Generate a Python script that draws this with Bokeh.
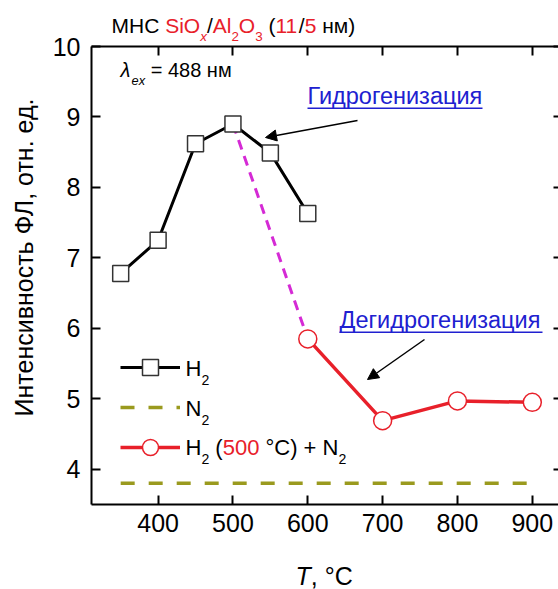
import math
from bokeh.plotting import figure
from bokeh.models import (Range1d, LinearAxis, FixedTicker, Label, Legend, LegendItem,
                          Arrow, NormalHead, BoxAnnotation)
from bokeh.embed import file_html
from bokeh.resources import INLINE

# ---------------- data ----------------
T_h2 = [350, 400, 450, 500, 550, 600]
I_h2 = [6.78, 7.25, 8.62, 8.90, 8.49, 7.63]

T_n2 = [350, 400, 450, 500, 550, 600, 700, 800, 900]
I_n2 = [3.80, 3.80, 3.80, 3.80, 3.80, 3.80, 3.80, 3.80, 3.80]

T_hn = [600, 700, 800, 900]
I_hn = [5.85, 4.69, 4.97, 4.95]

T_tr = [500, 600]
I_tr = [8.90, 5.85]

x_ticks = [400, 500, 600, 700, 800, 900]
y_ticks = [4, 5, 6, 7, 8, 9, 10]

# ---------------- style ----------------
FONT = "Liberation Sans"
RED = "#e8202a"
BLUE = "#2020d0"
OLIVE = "#9a9a1e"
MAGENTA = "#d52ad5"
BLACK = "#000000"

W, H = 558, 589
PL, PR = 91, 558        # pixel columns of x = XA and x = XB
PT, PB = 46, 504        # pixel rows of y = 10 and y = 3.5
XA, XB = 311, 935
YA, YB = 3.5, 10.0
SX = (PR - PL) / (XB - XA)
SY = (PB - PT) / (YB - YA)
X_LEFT = XA - PL / SX
X_RIGHT = XB + (W - PR) / SX
Y_TOP = YB + PT / SY
Y_BOT = YA - (H - PB) / SY


def dx(px):
    return X_LEFT + px / SX


def dy(py):
    return Y_BOT + (H - py) / SY


p = figure(width=W, height=H, x_range=Range1d(X_LEFT, X_RIGHT),
           y_range=Range1d(Y_BOT, Y_TOP),
           x_axis_type=None, y_axis_type=None, output_backend="svg",
           toolbar_location=None, min_border_left=0, min_border_right=0,
           min_border_top=0, min_border_bottom=0)
p.outline_line_color = None
p.background_fill_color = "white"
p.border_fill_color = "white"


def axis(ticks, labels=True, tick_in=9, line=True, **kw):
    ax = LinearAxis(ticker=FixedTicker(ticks=ticks), **kw)
    ax.major_tick_in = tick_in
    ax.major_tick_out = 0
    ax.minor_tick_in = 0
    ax.minor_tick_out = 0
    ax.major_tick_line_width = 2
    ax.axis_line_width = 2
    if not line:
        ax.axis_line_color = None
    if labels:
        ax.major_label_text_font = FONT
        ax.major_label_text_font_size = "25px"
        ax.major_label_text_color = BLACK
    else:
        ax.major_label_overrides = {t: "" for t in ticks}
        ax.major_label_text_font_size = "0px"
        ax.major_label_standoff = 0
    return ax


xb = axis(x_ticks, fixed_location=YA, bounds=(XA, X_RIGHT))
xb.major_label_standoff = 9
p.add_layout(xb, "below")
xt = axis(x_ticks, labels=False, fixed_location=YB, bounds=(XA, X_RIGHT))
p.add_layout(xt, "above")
yl = axis(y_ticks, fixed_location=XA, bounds=(YA, YB))
yl.major_label_standoff = 11
p.add_layout(yl, "left")
p.add_layout(axis(y_ticks, labels=False, tick_in=5, line=False, fixed_location=XB),
             "right")

# ---------------- glyphs ----------------
r_tr = p.line(T_tr, I_tr, line_color=MAGENTA, line_width=3, line_dash="10 7")
r_n2 = p.line(T_n2, I_n2, line_color=OLIVE, line_width=3.5, line_dash="14 14")
r_h2l = p.line(T_h2, I_h2, line_color=BLACK, line_width=3)
r_hnl = p.line(T_hn, I_hn, line_color=RED, line_width=3.5)
r_h2m = p.scatter(T_h2, I_h2, marker="square", size=16, fill_color="white",
                  line_color="#333333", line_width=1.5)
r_hnm = p.scatter(T_hn, I_hn, marker="circle", size=18, fill_color="white",
                  line_color=RED, line_width=1.5)

legend = Legend(items=[LegendItem(label=" ", renderers=[r_h2l, r_h2m]),
                       LegendItem(label=" ", renderers=[r_n2]),
                       LegendItem(label=" ", renderers=[r_hnl, r_hnm])],
                location=(120, H - PB + 37), padding=0, margin=0, spacing=0,
                glyph_width=60, glyph_height=40, label_height=40, label_width=1,
                label_standoff=0, label_text_font_size="1px",
                border_line_color=None, background_fill_alpha=0)
p.add_layout(legend, "center")

# ---------------- rich text helper ----------------
CW = {' ': 0.278, '(': 0.333, ')': 0.333, '+': 0.584, '/': 0.278, '=': 0.584,
      '.': 0.278, ',': 0.278, 'A': 0.667, 'C': 0.722, 'H': 0.722, 'N': 0.722,
      'O': 0.778, 'S': 0.667, 'T': 0.611, 'i': 0.222, 'l': 0.222, 'x': 0.5,
      'e': 0.556, '°': 0.4, 'λ': 0.556, 'М': 0.833, 'Н': 0.722, 'С': 0.722,
      'н': 0.547, 'м': 0.688}
BASE_FIX = 0.38   # empirical shift of the rendered alphabetic baseline


def tw(s, size):
    return sum(CW.get(c, 0.556) for c in s) * size


def put(px, py, text, fs, color, italic=False):
    p.add_layout(Label(x=dx(px), y=dy(py - BASE_FIX * fs), text=text, text_font=FONT,
                       text_font_size=f"{fs:.1f}px", text_color=color,
                       text_font_style="italic" if italic else "normal",
                       text_baseline="alphabetic", text_align="left"))


def rich(px, py, parts, size, sub_scale=0.64, drop=0.38):
    for part in parts:
        text, color = part[0], part[1]
        flags = part[2:]
        italic = "i" in flags
        sub = "s" in flags
        fs = size * sub_scale if sub else size
        yy = py + (size * drop if sub else 0)
        lead = len(text) - len(text.lstrip(" "))
        px += tw(" " * lead, fs)
        body = text.strip(" ")
        if body:
            put(px, yy, body, fs, color, italic)
        px += tw(text[lead:], fs)


# title
rich(111, 33, [("МНС ", BLACK), ("SiO", RED), ("x", RED, "i", "s"), ("/", BLACK),
               ("Al", RED), ("2", RED, "s"), ("O", RED), ("3", RED, "s"),
               (" (", BLACK), ("11", RED), ("/", BLACK), ("5", RED), (" нм)", BLACK)], 21)
# excitation
rich(120, 77, [("λ", BLACK, "i"), ("ex", BLACK, "i", "s"), (" = 488 нм", BLACK)], 20)
# x axis label
rich(295, 585, [("T", BLACK, "i"), (", °C", BLACK)], 25)
# y axis label (rotated, baseline at x = 33, centred at y = 257)
YL_FS = 25
p.add_layout(Label(x=dx(33 - BASE_FIX * YL_FS), y=dy(257), angle=math.pi / 2,
                   text="Интенсивность ФЛ, отн. ед.", text_font=FONT,
                   text_font_size=f"{YL_FS}px", text_color=BLACK,
                   text_baseline="alphabetic", text_align="center"))
# legend texts
rich(185, 376, [("H", BLACK), ("2", BLACK, "s")], 22)
rich(185, 416, [("N", BLACK), ("2", BLACK, "s")], 22)
rich(185, 455, [("H", BLACK), ("2", BLACK, "s"), (" (", BLACK), ("500", RED),
                (" °C) + N", BLACK), ("2", BLACK, "s")], 22)

# annotations
for txt, x0, base, x1 in [("Гидрогенизация", 307, 104, 482),
                          ("Дегидрогенизация", 339, 328, 542)]:
    put(x0, base, txt, 23.5, BLUE)
    p.add_layout(BoxAnnotation(left=dx(x0), right=dx(x1), top=dy(base + 3),
                               bottom=dy(base + 4.6), fill_color=BLUE, fill_alpha=1,
                               line_color=None))

for (sx, sy, ex, ey) in [(357, 120, 265, 137), (424, 339, 367, 379)]:
    p.add_layout(Arrow(x_start=dx(sx), y_start=dy(sy), x_end=dx(ex), y_end=dy(ey),
                       line_color=BLACK, line_width=1.5,
                       end=NormalHead(size=11, fill_color=BLACK, line_color=BLACK)))

open("out.html", "w").write(file_html(p, INLINE))
